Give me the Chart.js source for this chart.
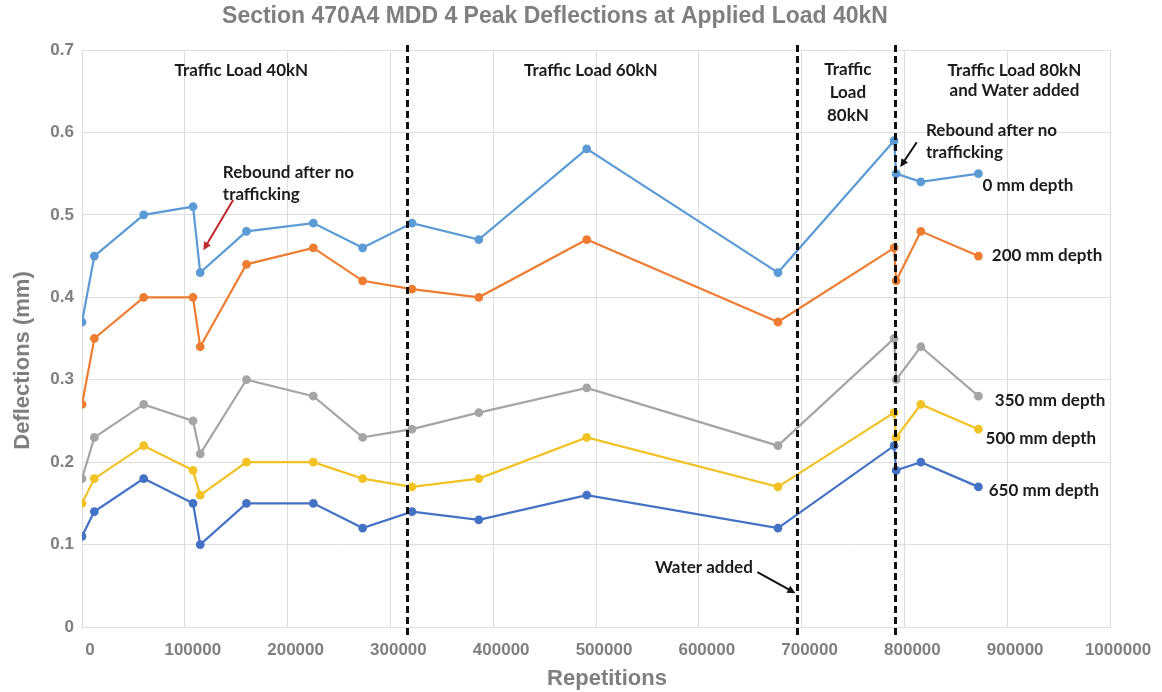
<!DOCTYPE html>
<html><head><meta charset="utf-8">
<script src="https://cdn.jsdelivr.net/npm/chart.js@4.4.1/dist/chart.umd.min.js"></script>
<style>html,body{margin:0;padding:0;background:#fff;}#wrap{width:1162px;height:692px;}</style>
</head><body><div id="wrap"><canvas id="c" width="1162" height="692"></canvas></div>
<script>
// ---- data ----
const repetitions = [0, 12000, 60000, 108000, 115000, 160000, 225000, 273000, 321000, 386000, 491000, 677000, 790000, 792000, 816000, 872000];
const depth0   = [0.37, 0.45, 0.50, 0.51, 0.43, 0.48, 0.49, 0.46, 0.49, 0.47, 0.58, 0.43, 0.59, 0.55, 0.54, 0.55];
const depth200 = [0.27, 0.35, 0.40, 0.40, 0.34, 0.44, 0.46, 0.42, 0.41, 0.40, 0.47, 0.37, 0.46, 0.42, 0.48, 0.45];
const depth350 = [0.18, 0.23, 0.27, 0.25, 0.21, 0.30, 0.28, 0.23, 0.24, 0.26, 0.29, 0.22, 0.35, 0.30, 0.34, 0.28];
const depth500 = [0.15, 0.18, 0.22, 0.19, 0.16, 0.20, 0.20, 0.18, 0.17, 0.18, 0.23, 0.17, 0.26, 0.23, 0.27, 0.24];
const depth650 = [0.11, 0.14, 0.18, 0.15, 0.10, 0.15, 0.15, 0.12, 0.14, 0.13, 0.16, 0.12, 0.22, 0.19, 0.20, 0.17];
const seriesNames = ['0 mm depth', '200 mm depth', '350 mm depth', '500 mm depth', '650 mm depth'];
const seriesColors = ['#5B9BD5', '#ED7D31', '#A5A5A5', '#F2C224', '#4472C4'];
const phaseBoundaries = [316000, 695500, 791000];
const xMin = 0, xMax = 1000000, xStep = 100000;
const yMin = 0, yMax = 0.7, yStep = 0.1;

// text annotations (data coordinates)
const notes = [
  {lines: ['Traffic Load 40kN'], x: 155000, y: 0.675, align: 'center', lh: 20},
  {lines: ['Traffic Load 60kN'], x: 495000, y: 0.675, align: 'center', lh: 20},
  {lines: ['Traffic', 'Load', '80kN'], x: 745000, y: 0.676, align: 'center', lh: 23},
  {lines: ['Traffic Load 80kN', 'and Water added'], x: 907000, y: 0.675, align: 'center', lh: 20},
  {lines: ['Rebound after no', 'trafficking'], x: 137000, y: 0.551, align: 'left', lh: 22},
  {lines: ['Rebound after no', 'trafficking'], x: 821000, y: 0.602, align: 'left', lh: 22},
  {lines: ['0 mm depth'], x: 876000, y: 0.535, align: 'left', lh: 20},
  {lines: ['200 mm depth'], x: 885000, y: 0.451, align: 'left', lh: 20},
  {lines: ['350 mm depth'], x: 888000, y: 0.275, align: 'left', lh: 20},
  {lines: ['500 mm depth'], x: 879000, y: 0.229, align: 'left', lh: 20},
  {lines: ['650 mm depth'], x: 882000, y: 0.166, align: 'left', lh: 20},
  {lines: ['Water added'], x: 605000, y: 0.0716, align: 'center', lh: 20}
];
const arrows = [
  {from: [147000, 0.518], to: [118000, 0.457], color: '#C0282D'},
  {from: [812000, 0.588], to: [796000, 0.558], color: '#111111'},
  {from: [657000, 0.0667], to: [694000, 0.041], color: '#111111'}
];

const seriesValues = [depth0, depth200, depth350, depth500, depth650];
const datasets = seriesValues.map((vals, i) => ({
  label: seriesNames[i],
  data: repetitions.map((r, j) => ({x: r, y: vals[j]})),
  borderColor: seriesColors[i],
  backgroundColor: seriesColors[i],
  borderWidth: 2.2,
  pointRadius: 3.3,
  pointHoverRadius: 3.3,
  tension: 0
}));

const overlay = {
  id: 'overlay',
  afterDatasetsDraw(chart) {
    const {ctx, scales: {x, y}} = chart;
    ctx.save();
    // phase boundary dashed lines
    ctx.strokeStyle = '#111';
    ctx.lineWidth = 3;
    ctx.setLineDash([7, 4]);
    phaseBoundaries.forEach(v => {
      const px = Math.round(x.getPixelForValue(v)) + 0.5;
      ctx.beginPath();
      ctx.moveTo(px, chart.chartArea.top - 5);
      ctx.lineTo(px, chart.chartArea.bottom + 9);
      ctx.stroke();
    });
    ctx.setLineDash([]);
    // arrows
    arrows.forEach(a => {
      const x1 = x.getPixelForValue(a.from[0]), y1 = y.getPixelForValue(a.from[1]);
      const x2 = x.getPixelForValue(a.to[0]), y2 = y.getPixelForValue(a.to[1]);
      const ang = Math.atan2(y2 - y1, x2 - x1);
      const hl = 9;
      ctx.strokeStyle = a.color; ctx.fillStyle = a.color; ctx.lineWidth = 2;
      ctx.beginPath(); ctx.moveTo(x1, y1);
      ctx.lineTo(x2 - Math.cos(ang) * hl * 0.8, y2 - Math.sin(ang) * hl * 0.8); ctx.stroke();
      ctx.beginPath();
      ctx.moveTo(x2, y2);
      ctx.lineTo(x2 - hl * Math.cos(ang - 0.45), y2 - hl * Math.sin(ang - 0.45));
      ctx.lineTo(x2 - hl * Math.cos(ang + 0.45), y2 - hl * Math.sin(ang + 0.45));
      ctx.closePath(); ctx.fill();
    });
    // text notes
    ctx.fillStyle = '#1c1c1c';
    ctx.font = 'bold 17px Lato, "Open Sans", sans-serif';
    ctx.textBaseline = 'middle';
    notes.forEach(n => {
      ctx.textAlign = n.align;
      const px = x.getPixelForValue(n.x), py = y.getPixelForValue(n.y);
      n.lines.forEach((t, k) => ctx.fillText(t, px, py + k * n.lh));
    });
    ctx.restore();
  }
};

const gridColor = '#dedede';
const tickFont = {family: '"Liberation Sans", Arial, sans-serif', size: 17, weight: 'bold'};
const axisTitleFont = {family: '"Liberation Sans", Arial, sans-serif', size: 22, weight: 'bold'};

new Chart(document.getElementById('c'), {
  type: 'line',
  data: {datasets},
  options: {
    responsive: false,
    animation: false,
    devicePixelRatio: 1,
    layout: {padding: {left: 0, right: 52, top: 0, bottom: 0}},
    plugins: {
      legend: {display: false},
      tooltip: {enabled: false},
      title: {
        display: true,
        text: 'Section 470A4 MDD 4 Peak Deflections at Applied Load 40kN',
        color: '#7f7f7f',
        font: {family: '"Liberation Sans", Arial, sans-serif', size: 23, weight: 'bold', lineHeight: 1.2},
        padding: {top: 3, bottom: 19.4}
      }
    },
    scales: {
      x: {
        type: 'linear', min: xMin, max: xMax,
        grid: {color: gridColor, drawTicks: false},
        border: {color: gridColor},
        ticks: {stepSize: xStep, color: '#7f7f7f', font: tickFont, padding: 13, labelOffset: 8, maxRotation: 0,
          callback: v => String(v)},
        title: {display: true, text: '\u2003Repetitions', color: '#7f7f7f', font: axisTitleFont, padding: {top: 1, bottom: 0}},
        afterFit: s => { s.height = 65; }
      },
      y: {
        min: yMin, max: yMax,
        grid: {color: gridColor, drawTicks: false},
        border: {color: gridColor},
        ticks: {stepSize: yStep, color: '#7f7f7f', font: tickFont, padding: 8,
          callback: v => String(Math.round(v * 10) / 10)},
        title: {display: true, text: 'Deflections (mm)\u2003\u2003', color: '#7f7f7f', font: axisTitleFont, padding: {top: 10, bottom: 0}},
        afterFit: s => { s.width = 82; }
      }
    }
  },
  plugins: [overlay]
});
</script>
</body></html>
